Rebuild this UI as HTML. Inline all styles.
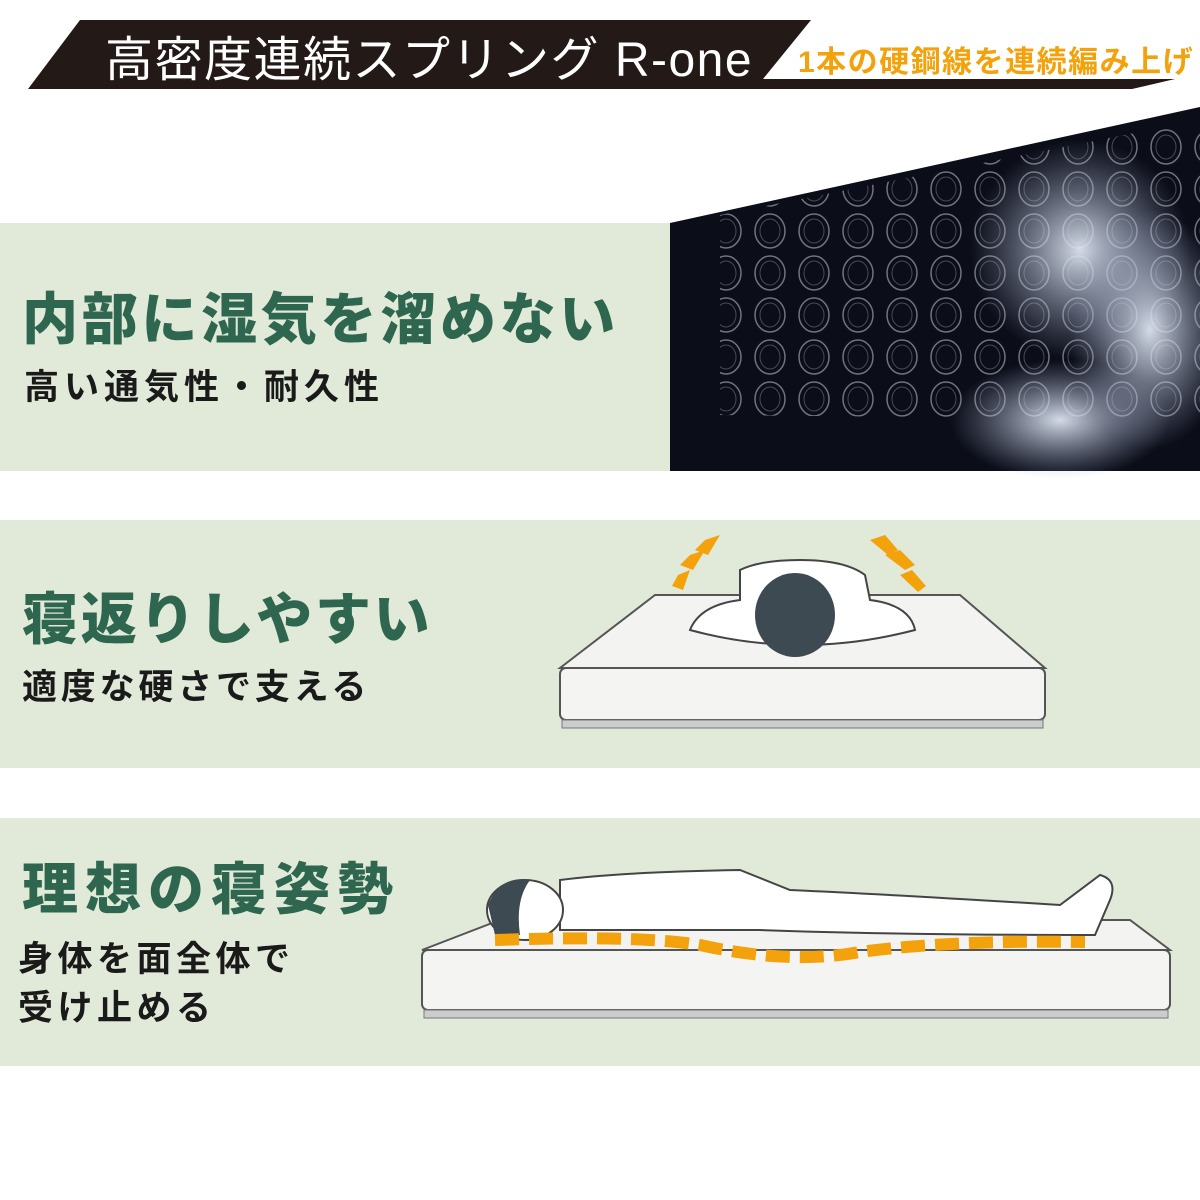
<!DOCTYPE html>
<html><head><meta charset="utf-8"><style>
body{margin:0;width:1200px;height:1200px;background:#fff;position:relative;overflow:hidden;font-family:"Liberation Sans","Noto Sans CJK JP",sans-serif}
.abs{position:absolute}
.band{position:absolute;left:0;width:1200px;background:#e1ead8}
.h{position:absolute;left:22px;color:#2e6650;font-weight:900;font-size:56px;letter-spacing:2px;white-space:nowrap;line-height:1}
.s{position:absolute;left:24px;color:#1a1a1a;font-weight:700;font-size:35px;letter-spacing:3.5px;white-space:nowrap;line-height:1}
</style></head><body>
<svg class="abs" style="left:0;top:0" width="1200" height="1200">
<polygon points="80,20 811,20 763,79 1175,79 1132,89 28,89" fill="#231a17"/>
<text x="105" y="76" fill="#fff" font-size="48" letter-spacing="1.5" font-family="Liberation Sans,Noto Sans CJK JP,sans-serif">高密度連続スプリング R-one</text>
<text x="798" y="72" fill="#f3a20c" font-size="30" font-weight="700" letter-spacing="1.5" font-family="Liberation Sans,Noto Sans CJK JP,sans-serif">1本の硬鋼線を連続編み上げ</text>
</svg>
<div class="band" style="top:223px;height:248px"></div>
<div class="band" style="top:520px;height:248px"></div>
<div class="band" style="top:818px;height:248px"></div>
<svg class="abs" style="left:0;top:0" width="1200" height="1200">
<defs>
<pattern id="coil" width="44" height="42" patternUnits="userSpaceOnUse"><ellipse cx="22" cy="21" rx="15" ry="17" fill="none" stroke="#8a8d96" stroke-width="1.5"/><ellipse cx="22" cy="21" rx="10" ry="12" fill="none" stroke="#555a66" stroke-width="1"/></pattern>
<radialGradient id="steam" cx="0.5" cy="0.5" r="0.5"><stop offset="0" stop-color="#dfe6f2" stop-opacity="0.95"/><stop offset="1" stop-color="#9aa6c4" stop-opacity="0"/></radialGradient>
</defs>
<polygon points="670,223 1200,107 1200,471 670,471" fill="#0b0d18"/>
<polygon points="720,215 1200,120 1200,420 720,415" fill="url(#coil)" opacity="0.8"/>
<ellipse cx="1080" cy="250" rx="110" ry="110" fill="url(#steam)"/>
<ellipse cx="1060" cy="420" rx="110" ry="60" fill="url(#steam)"/>
<ellipse cx="1150" cy="330" rx="80" ry="120" fill="url(#steam)"/>
<polygon points="560,668 655,595 960,595 1045,668" fill="#f3f3f1" stroke="#555" stroke-width="2"/>
<rect x="560" y="668" width="485" height="52" rx="6" fill="#f4f4f2" stroke="#555" stroke-width="2"/>
<rect x="562" y="720" width="481" height="8" fill="#ccc" stroke="#777" stroke-width="1"/>
<path d="M690,630 Q700,605 740,600 L740,570 Q760,560 800,560 Q845,560 865,575 L870,600 Q910,605 915,630 Q800,660 690,630Z" fill="#fff" stroke="#444" stroke-width="2"/>
<ellipse cx="795" cy="615" rx="40" ry="42" fill="#3d4a52"/>
<g fill="#f3a20c"><polygon points="705,540 720,535 708,555 695,550"/><polygon points="690,555 705,550 693,570 680,565"/><polygon points="678,575 690,570 683,590 672,586"/><polygon points="885,535 870,540 888,555 898,550"/><polygon points="900,550 885,555 905,570 915,565"/><polygon points="912,570 900,575 918,592 926,586"/></g>
<polygon points="422,950 500,920 1130,920 1170,950" fill="#f3f3f1" stroke="#555" stroke-width="2"/>
<rect x="422" y="950" width="748" height="60" rx="6" fill="#f4f4f2" stroke="#555" stroke-width="2"/>
<rect x="424" y="1010" width="744" height="8" fill="#ccc" stroke="#777"/>
<path d="M560,880 Q620,872 740,870 L790,890 Q900,895 1060,905 L1100,875 Q1118,880 1110,900 L1095,935 Q900,935 760,930 L560,930Z" fill="#fff" stroke="#444" stroke-width="2"/>
<ellipse cx="525" cy="910" rx="38" ry="30" fill="#fff" stroke="#444" stroke-width="2"/>
<path d="M488,905 Q500,875 530,880 Q515,900 520,935 L495,935Z" fill="#3d4a52"/>
<path d="M495,940 Q640,935 700,945 Q790,965 860,952 Q950,940 1085,942" fill="none" stroke="#f3a20c" stroke-width="12" stroke-dasharray="24,10"/>
</svg>
<div class="h" style="top:292px;letter-spacing:3.7px">内部に湿気を溜めない</div>
<div class="s" style="top:370px;letter-spacing:5px">高い通気性・耐久性</div>
<div class="h" style="top:592px;letter-spacing:2.7px">寝返りしやすい</div>
<div class="s" style="top:670px;left:22px;letter-spacing:3.8px">適度な硬さで支える</div>
<div class="h" style="top:862px;letter-spacing:7px">理想の寝姿勢</div>
<div class="s" style="top:942px;left:18px;letter-spacing:4.5px">身体を面全体で</div>
<div class="s" style="top:991px;left:18px;letter-spacing:4.5px">受け止める</div>
</body></html>
